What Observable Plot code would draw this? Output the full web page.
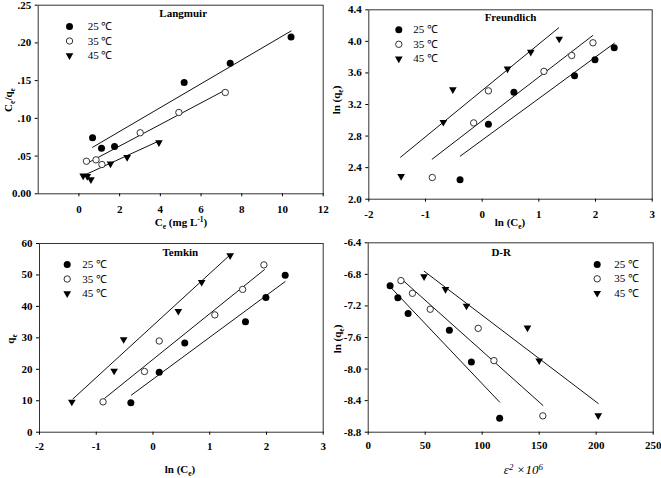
<!DOCTYPE html>
<html><head><meta charset="utf-8">
<script src="https://cdn.jsdelivr.net/npm/d3@7"></script>
<script src="https://cdn.jsdelivr.net/npm/@observablehq/plot@0.6"></script>
<style>
body{margin:0;background:#fff;}
#fig{position:relative;width:661px;height:478px;overflow:hidden;background:#fff;}
.panel{position:absolute;}
</style></head><body><div id="fig"></div>
<script>
// ---------- DATA ----------
const temps = ["25 ℃", "35 ℃", "45 ℃"];

// Langmuir: Ce vs Ce/qe
const lang25x = [0.67, 1.11, 1.75, 5.17, 7.43, 10.42];
const lang25y = [0.0742, 0.0604, 0.0627, 0.1475, 0.173, 0.208];
const lang35x = [0.37, 0.84, 1.13, 3.01, 4.91, 7.19];
const lang35y = [0.0432, 0.045, 0.0388, 0.0809, 0.1078, 0.1343];
const lang45x = [0.21, 0.41, 0.59, 1.55, 2.37, 3.93];
const lang45y = [0.0239, 0.0233, 0.019, 0.0398, 0.0485, 0.068];
const langFit25 = [[0.67, 0.0616], [10.42, 0.2158]];
const langFit35 = [[0.37, 0.040], [7.19, 0.1375]];
const langFit45 = [[0.21, 0.024], [3.93, 0.070]];

// ln(Ce) shared by Freundlich and Temkin
const lnCe25 = [-0.39, 0.11, 0.56, 1.63, 1.99, 2.33];
const lnCe35 = [-0.88, -0.15, 0.11, 1.09, 1.58, 1.955];
const lnCe45 = [-1.43, -0.685, -0.517, 0.447, 0.858, 1.36];

// Freundlich: ln(qe)
const fr25y = [2.245, 2.95, 3.354, 3.565, 3.766, 3.918];
const fr35y = [2.275, 2.967, 3.373, 3.62, 3.821, 3.982];
const fr45y = [2.291, 2.976, 3.39, 3.652, 3.865, 4.032];
const frFit25 = [[-0.388, 2.545], [2.333, 3.977]];
const frFit35 = [[-0.882, 2.507], [1.951, 4.074]];
const frFit45 = [[-1.44, 2.532], [1.351, 4.172]];

// Temkin: qe
const tk25y = [9.4, 19.1, 28.4, 35.1, 42.8, 49.9];
const tk35y = [9.65, 19.3, 29.0, 37.3, 45.4, 53.2];
const tk45y = [9.65, 19.5, 29.5, 38.5, 47.7, 56.2];
const tkFit25 = [[-0.38, 11.8], [2.33, 47.9]];
const tkFit35 = [[-0.85, 10.8], [1.965, 51.7]];
const tkFit45 = [[-1.41, 10.6], [1.366, 56.5]];

// D-R: epsilon^2 x 10^6 vs ln(qe)
const dr25x = [19.2, 26.0, 35.0, 71.2, 90.5, 115.3];
const dr25y = [-6.943, -7.097, -7.297, -7.507, -7.912, -8.622];
const dr35x = [28.7, 38.8, 54.4, 96.5, 110.3, 153.2];
const dr35y = [-6.879, -7.04, -7.242, -7.484, -7.893, -8.593];
const dr45x = [49.0, 67.8, 86.2, 139.7, 150.0, 201.8];
const dr45y = [-6.827, -6.989, -7.199, -7.477, -7.893, -8.588];
const drFit25 = [[19.7, -6.964], [115.3, -8.419]];
const drFit35 = [[29.4, -6.862], [153.3, -8.461]];
const drFit45 = [[49.1, -6.76], [201.8, -8.436]];

// tick values
const langXTicks = [0, 2, 4, 6, 8, 10, 12];
const langYTicks = [0, 0.05, 0.10, 0.15, 0.20, 0.25];
const lnXTicks = [-2, -1, 0, 1, 2, 3];
const frYTicks = [2.0, 2.4, 2.8, 3.2, 3.6, 4.0, 4.4];
const tkYTicks = [0, 10, 20, 30, 40, 50, 60];
const drXTicks = [0, 50, 100, 150, 200, 250];
const drYTicks = [-8.8, -8.4, -8.0, -7.6, -7.2, -6.8, -6.4];

// ---------- DRAWING ----------
const FONT = "'Liberation Serif','Times New Roman',serif";
const sqrt3 = Math.sqrt(3);
const triangleDown = {
  draw(ctx, size) {
    const y = Math.sqrt(size / (sqrt3 * 3));
    ctx.moveTo(0, 2 * y);
    ctx.lineTo(-sqrt3 * y, -y);
    ctx.lineTo(sqrt3 * y, -y);
    ctx.closePath();
  }
};
const symStyles = [
  {r: 3.5, fill: "#000", stroke: "none", symbol: "circle"},
  {r: 3.2, fill: "#fff", stroke: "#333", strokeWidth: 1, symbol: "circle"},
  {r: 2.85, fill: "#000", stroke: "none", symbol: triangleDown}
];

function toRows(xs, ys) { return xs.map((x, i) => ({x, y: ys[i]})); }
function fitRows(fit) { return fit.map(([x, y]) => ({x, y})); }

function richText(svg, x, y, parts, opt = {}) {
  const size = opt.size || 11;
  const t = d3.select(svg).append("text")
    .attr("transform", opt.rotate ? `translate(${x},${y}) rotate(-90)` : `translate(${x},${y})`)
    .attr("y", size * 0.35)
    .attr("text-anchor", "middle")
    .attr("font-family", opt.family || FONT)
    .attr("font-size", size)
    .attr("font-weight", opt.weight || "bold")
    .attr("font-style", opt.style || "normal")
    .attr("fill", "#000");
  let shift = 0;
  for (const [txt, kind] of parts) {
    const target = kind === "sub" ? 3 : kind === "sup" ? -4 : 0;
    t.append("tspan")
      .attr("dy", target - shift)
      .attr("font-size", kind ? size * 0.68 : size)
      .text(txt);
    shift = target;
  }
}

function makePanel(cfg) {
  const marks = [];
  marks.push(Plot.frame({stroke: "#333", strokeWidth: 1}));
  cfg.fits.forEach(f => marks.push(Plot.line(fitRows(f), {x: "x", y: "y", stroke: "#111", strokeWidth: 1})));
  cfg.series.forEach(([xs, ys], i) => marks.push(Plot.dot(toRows(xs, ys), {x: "x", y: "y", ...symStyles[i]})));
  marks.push(Plot.text([cfg.title], {text: d => d, frameAnchor: "top", dx: cfg.titleDx, dy: cfg.titleDy,
    lineAnchor: "middle", fontWeight: "bold", fontSize: 11}));
  temps.forEach((lab, i) => {
    const L = cfg.legend;
    marks.push(Plot.dot([lab], {frameAnchor: "top-left", dx: L.sx, dy: L.y0 + i * L.step, ...symStyles[i]}));
    marks.push(Plot.text([lab], {text: d => d, frameAnchor: "top-left", dx: L.tx, dy: L.y0 + i * L.step,
      textAnchor: "start", lineAnchor: "middle", fontWeight: "normal", fontSize: 11}));
  });
  marks.push(Plot.axisX({ticks: cfg.xTicks, tickFormat: cfg.xFmt, tickSize: 3, tickPadding: cfg.xPad, label: null}));
  marks.push(Plot.axisY({ticks: cfg.yTicks, tickFormat: cfg.yFmt, tickSize: 3, tickPadding: 4, label: null}));
  const svg = Plot.plot({
    width: cfg.width, height: 239,
    marginTop: cfg.m[0], marginRight: cfg.m[1], marginBottom: cfg.m[2], marginLeft: cfg.m[3],
    x: {domain: cfg.xDomain, nice: false},
    y: {domain: cfg.yDomain, nice: false},
    style: {fontFamily: FONT, fontSize: "11px", fontWeight: "bold", color: "#000", background: "#fff", overflow: "visible"},
    marks
  });
  richText(svg, cfg.xLab.x, cfg.xLab.y, cfg.xLab.parts, cfg.xLab.opt);
  richText(svg, cfg.yLab.x, cfg.yLab.y, cfg.yLab.parts, {rotate: true});
  svg.classList.add("panel");
  svg.style.left = cfg.left + "px";
  svg.style.top = cfg.top + "px";
  document.getElementById("fig").appendChild(svg);
}

const fmtInt = d => String(d);
const fmt1 = d => d.toFixed(1);
const fmtLangY = d => d === 0 ? "0.00" : d.toFixed(2).replace(/^0/, "");

makePanel({
  left: 0, top: 0, width: 330, m: [4.7, 7.3, 45.7, 37.7],
  xDomain: [-2, 12], yDomain: [0, 0.25], xTicks: langXTicks, yTicks: langYTicks,
  xFmt: fmtInt, yFmt: fmtLangY, xPad: 8,
  series: [[lang25x, lang25y], [lang35x, lang35y], [lang45x, lang45y]],
  fits: [langFit25, langFit35, langFit45],
  title: "Langmuir", titleDx: 2.5, titleDy: 8,
  legend: {sx: 31.3, tx: 49.5, y0: 21.3, step: 14.5},
  xLab: {x: 181, y: 222, parts: [["C", ""], ["e", "sub"], [" (mg L", ""], ["-1", "sup"], [")", ""]]},
  yLab: {x: 8.5, y: 100, parts: [["C", ""], ["e", "sub"], ["/q", ""], ["e", "sub"]]}
});

makePanel({
  left: 330, top: 0, width: 331, m: [9.3, 9.3, 40.3, 38.3],
  xDomain: [-2, 3], yDomain: [2.0, 4.4], xTicks: lnXTicks, yTicks: frYTicks,
  xFmt: fmtInt, yFmt: fmt1, xPad: 7.5,
  series: [[lnCe25, fr25y], [lnCe35, fr35y], [lnCe45, fr45y]],
  fits: [frFit25, frFit35, frFit45],
  title: "Freundlich", titleDx: 0, titleDy: 7.5,
  legend: {sx: 30, tx: 44.5, y0: 20, step: 14.5},
  xLab: {x: 180, y: 222, parts: [["ln (C", ""], ["e", "sub"], [")", ""]]},
  yLab: {x: 6.5, y: 100, parts: [["ln (q", ""], ["e", "sub"], [")", ""]]}
});

makePanel({
  left: 0, top: 239, width: 330, m: [4, 7.3, 46.3, 39],
  xDomain: [-2, 3], yDomain: [0, 60], xTicks: lnXTicks, yTicks: tkYTicks,
  xFmt: fmtInt, yFmt: fmtInt, xPad: 7,
  series: [[lnCe25, tk25y], [lnCe35, tk35y], [lnCe45, tk45y]],
  fits: [tkFit25, tkFit35, tkFit45],
  title: "Temkin", titleDx: -1, titleDy: 8.7,
  legend: {sx: 27.7, tx: 42.7, y0: 21, step: 14.5},
  xLab: {x: 180, y: 230, parts: [["ln (C", ""], ["e", "sub"], [")", ""]]},
  yLab: {x: 10, y: 100, parts: [["q", ""], ["e", "sub"]]}
});

makePanel({
  left: 330, top: 239, width: 331, m: [3.3, 8.3, 46.3, 37.7],
  xDomain: [0, 250], yDomain: [-8.8, -6.4], xTicks: drXTicks, yTicks: drYTicks,
  xFmt: fmtInt, yFmt: fmt1, xPad: 5.5,
  series: [[dr25x, dr25y], [dr35x, dr35y], [dr45x, dr45y]],
  fits: [drFit25, drFit35, drFit45],
  title: "D-R", titleDx: -9.5, titleDy: 9.4,
  legend: {sx: 229, tx: 246, y0: 21.7, step: 14.3},
  xLab: {x: 193.3, y: 230, parts: [["ε", ""], ["2", "sup"], [" ×", ""], ["10", ""], ["6", "sup"]],
         opt: {size: 13, weight: "normal", style: "italic"}},
  yLab: {x: 6.7, y: 100, parts: [["ln (q", ""], ["e", "sub"], [")", ""]]}
});
</script>
</body></html>
